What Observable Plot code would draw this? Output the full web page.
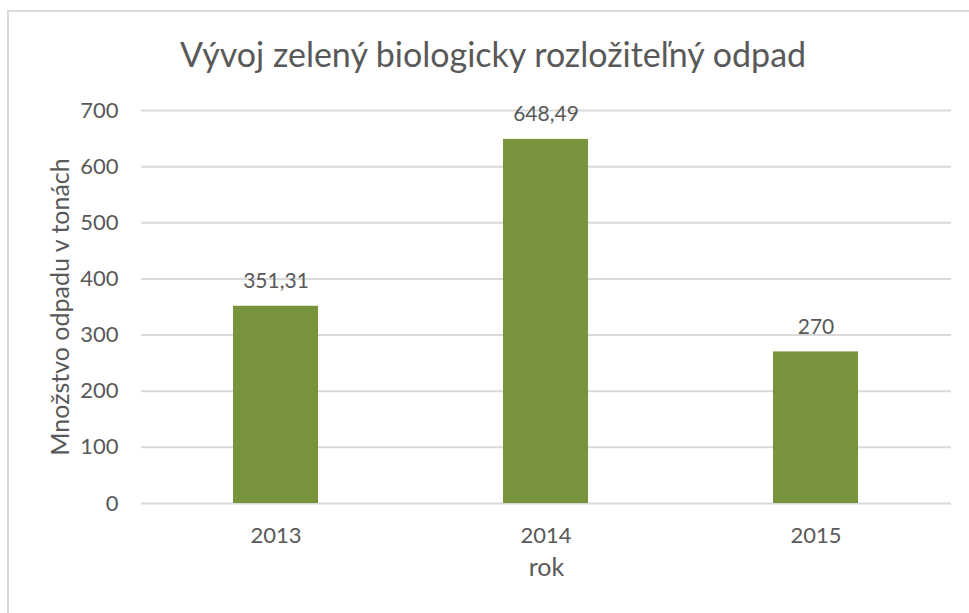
<!DOCTYPE html>
<html>
<head>
<meta charset="utf-8">
<script src="https://cdn.jsdelivr.net/npm/d3@7"></script>
<script src="https://cdn.jsdelivr.net/npm/@observablehq/plot@0.6"></script>
<style>
  html, body { margin: 0; padding: 0; background: #fff; }
  #wrap { position: relative; width: 969px; height: 613px; overflow: hidden; font-family: Lato, "Open Sans", sans-serif; }
  #frame { position: absolute; left: 7px; top: 10px; width: 1000px; height: 1000px; border-left: 2px solid #d9d9d9; border-top: 2px solid #d9d9d9; }
  #title { position: absolute; left: 17px; width: 952px; top: 34px; text-align: center; font-size: 34px; line-height: 40px; color: #595959; }
  #chart { position: absolute; left: 0; top: 90px; }
</style>
</head>
<body>
<div id="wrap">
  <div id="frame"></div>
  <div id="title">Vývoj zelený biologicky rozložiteľný odpad</div>
  <div id="chart"></div>
</div>
<script>
const years = ["2013", "2014", "2015"];
const values = [351.31, 648.49, 270];
const yTicks = [0, 100, 200, 300, 400, 500, 600, 700];
const yLabel = "Množstvo odpadu v tonách";
const xLabel = "rok";

const data = years.map((y, i) => ({year: y, value: values[i], label: String(values[i]).replace(".", ",")}));

const textColor = "#595959";
const chart = Plot.plot({
  width: 969,
  height: 523,
  marginTop: 20,
  marginBottom: 110,
  marginLeft: 141,
  marginRight: 18,
  style: {fontFamily: "Lato, 'Open Sans', sans-serif", fontSize: "22px", color: textColor, background: "transparent"},
  x: {domain: years, paddingInner: 0.685, paddingOuter: 0.3425, label: null},
  y: {domain: [0, 700], ticks: yTicks, label: null},
  marks: [
    Plot.gridY(yTicks, {stroke: "#d9d9d9", strokeOpacity: 1, strokeWidth: 2}),
    Plot.barY(data, {x: "year", y: "value", fill: "#77933C"}),
    Plot.text(data, {x: "year", y: "value", text: "label", dy: -25, fill: textColor, fontSize: 21}),
    Plot.axisY(yTicks, {tickSize: 0, tickPadding: 23, fill: textColor, fontSize: 22, label: null}),
    Plot.axisX({tickSize: 0, tickPadding: 24, fill: textColor, fontSize: 22, label: null}),
    Plot.text([xLabel], {frameAnchor: "bottom", dy: 72, fill: textColor, fontSize: 25}),
    Plot.text([yLabel], {frameAnchor: "left", textAnchor: "middle", rotate: -90, dx: -81, fill: textColor, fontSize: 25})
  ]
});
document.getElementById("chart").appendChild(chart);
</script>
</body>
</html>
